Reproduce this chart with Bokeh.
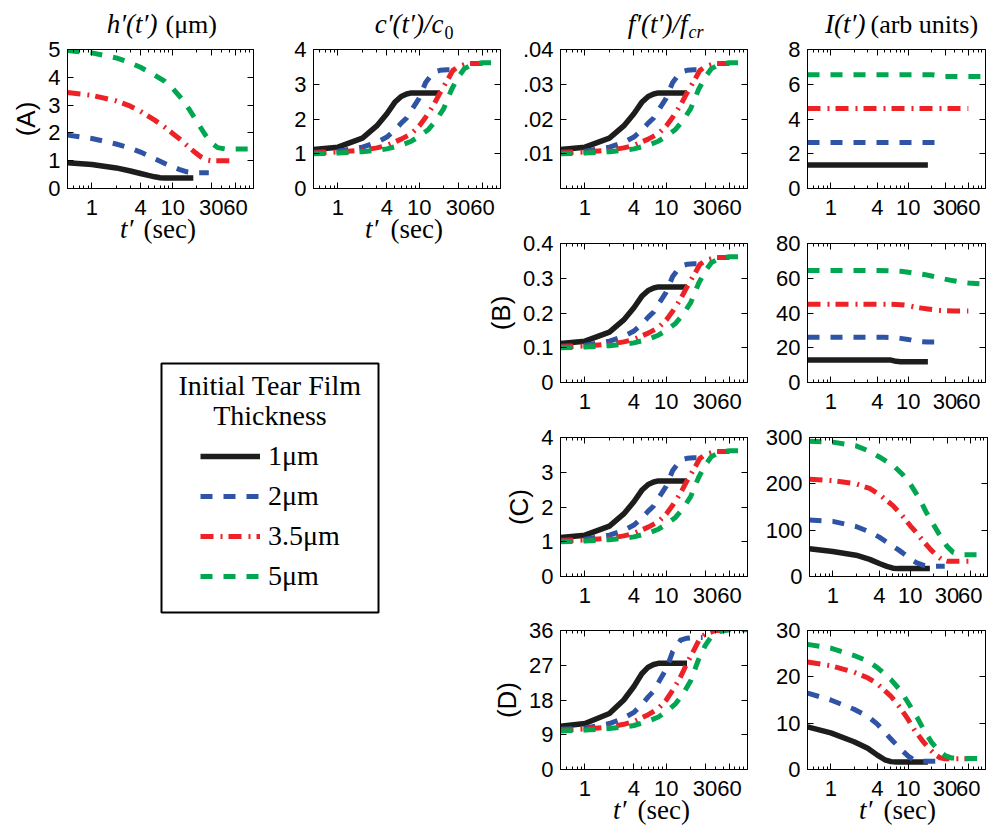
from bokeh.plotting import figure
from bokeh.models import (Range1d, FixedTicker, LinearAxis, LogAxis, Label,
                          Legend, LegendItem, PrintfTickFormatter, CustomLabelingPolicy)
from bokeh.layouts import row, column
from bokeh.embed import file_html
from bokeh.resources import INLINE

SANS = "Liberation Sans"
SERIF = "Liberation Serif"

# ---------------- data ----------------
thickness_labels = ["1μm", "2μm", "3.5μm", "5μm"]
x_ticks = [1, 4, 10, 30, 60]
x_minor = [0.6, 0.7, 0.8, 0.9, 2, 3, 5, 6, 7, 8, 9, 20, 40, 50, 70, 80, 90]

t_1um = [0.5, 1, 2, 3, 4, 5, 6, 7, 8, 10, 18]
t_2um = [0.5, 1, 2, 3, 4, 5, 6, 7, 8, 10, 12, 15, 18, 22, 28]
t_35um = [0.5, 1, 2, 3, 4, 6, 8, 10, 12, 15, 18, 22, 26, 30, 40, 60]
t_5um = [0.5, 1, 2, 3, 4, 6, 8, 10, 13, 16, 20, 25, 30, 36, 45, 60, 100]

# (A) h'(t') in micrometres
h_1um = [0.93, 0.86, 0.74, 0.63, 0.54, 0.47, 0.42, 0.39, 0.38, 0.38, 0.38]
h_2um = [1.92, 1.80, 1.60, 1.45, 1.31, 1.18, 1.07, 0.98, 0.90, 0.78, 0.69, 0.60, 0.57, 0.57, 0.57]
h_35um = [3.45, 3.35, 3.15, 2.96, 2.78, 2.46, 2.20, 1.98, 1.80, 1.55, 1.35, 1.15, 1.03, 1.00, 1.00, 1.00]
h_5um = [4.96, 4.88, 4.70, 4.52, 4.36, 4.08, 3.85, 3.60, 3.22, 2.85, 2.40, 1.95, 1.65, 1.47, 1.42, 1.42, 1.42]

# c'(t')/c0 (row A and row C)
c_1um = [1.12, 1.19, 1.45, 1.80, 2.15, 2.48, 2.65, 2.72, 2.75, 2.75, 2.75]
c_2um = [1.04, 1.07, 1.19, 1.33, 1.48, 1.68, 1.88, 2.03, 2.25, 2.60, 3.05, 3.35, 3.40, 3.42, 3.42]
c_35um = [1.02, 1.05, 1.10, 1.17, 1.24, 1.42, 1.58, 1.80, 2.05, 2.40, 2.75, 3.10, 3.40, 3.50, 3.60, 3.60]
c_5um = [1.00, 1.02, 1.06, 1.10, 1.14, 1.25, 1.36, 1.50, 1.70, 1.95, 2.30, 2.85, 3.20, 3.45, 3.57, 3.62, 3.62]

# f'(t')/fcr row A
fA_1um = [0.0112, 0.0119, 0.0145, 0.0180, 0.0215, 0.0248, 0.0265, 0.0272, 0.0275, 0.0275, 0.0275]
fA_2um = [0.0104, 0.0107, 0.0119, 0.0133, 0.0148, 0.0168, 0.0188, 0.0203, 0.0225, 0.0260, 0.0305, 0.0335, 0.0340, 0.0342, 0.0342]
fA_35um = [0.0102, 0.0105, 0.0110, 0.0117, 0.0124, 0.0142, 0.0158, 0.0180, 0.0205, 0.0240, 0.0275, 0.0310, 0.0340, 0.0350, 0.0360, 0.0360]
fA_5um = [0.0100, 0.0102, 0.0106, 0.0110, 0.0114, 0.0125, 0.0136, 0.0150, 0.0170, 0.0195, 0.0230, 0.0285, 0.0320, 0.0345, 0.0357, 0.0362, 0.0362]

# f'(t')/fcr row B
fB_1um = [0.112, 0.119, 0.145, 0.180, 0.215, 0.248, 0.265, 0.272, 0.275, 0.275, 0.275]
fB_2um = [0.104, 0.107, 0.119, 0.133, 0.148, 0.168, 0.188, 0.203, 0.225, 0.260, 0.305, 0.335, 0.340, 0.342, 0.342]
fB_35um = [0.102, 0.105, 0.110, 0.117, 0.124, 0.142, 0.158, 0.180, 0.205, 0.240, 0.275, 0.310, 0.340, 0.350, 0.360, 0.360]
fB_5um = [0.100, 0.102, 0.106, 0.110, 0.114, 0.125, 0.136, 0.150, 0.170, 0.195, 0.230, 0.285, 0.320, 0.345, 0.357, 0.362, 0.362]

# f'(t')/fcr row D
fD_1um = [11.2, 11.9, 14.5, 18.0, 21.5, 24.8, 26.5, 27.2, 27.5, 27.5, 27.5]
fD_2um = [10.4, 10.7, 11.9, 13.3, 14.8, 16.8, 18.8, 20.3, 22.5, 26.0, 30.5, 33.5, 34.0, 34.2, 34.2]
fD_35um = [10.2, 10.5, 11.0, 11.7, 12.4, 14.2, 15.8, 18.0, 20.5, 24.0, 27.5, 31.0, 34.0, 35.0, 36.0, 36.0]
fD_5um = [10.0, 10.2, 10.6, 11.0, 11.4, 12.5, 13.6, 15.0, 17.0, 19.5, 23.0, 28.5, 32.0, 34.5, 35.7, 36.2, 36.2]

# I(t') (arb units), rows A-D
IA_1um = [1.35, 1.35, 1.35, 1.35, 1.35, 1.35, 1.35, 1.35, 1.35, 1.35, 1.35]
IA_2um = [2.65, 2.65, 2.65, 2.65, 2.65, 2.65, 2.65, 2.65, 2.65, 2.65, 2.65, 2.65, 2.65, 2.65, 2.65]
IA_35um = [4.6, 4.6, 4.6, 4.6, 4.6, 4.6, 4.6, 4.6, 4.6, 4.6, 4.6, 4.6, 4.6, 4.6, 4.6, 4.6]
IA_5um = [6.55, 6.55, 6.55, 6.55, 6.55, 6.55, 6.55, 6.55, 6.55, 6.55, 6.55, 6.5, 6.45, 6.45, 6.45, 6.45, 6.45]

IB_1um = [12.9, 12.9, 12.9, 12.9, 12.9, 12.9, 12.9, 12.2, 12.0, 12.0, 12.0]
IB_2um = [26.0, 26.0, 26.0, 26.0, 26.0, 26.0, 25.9, 25.7, 25.4, 24.8, 24.0, 23.5, 23.3, 23.3, 23.3]
IB_35um = [45.0, 45.0, 45.0, 45.0, 45.0, 45.0, 44.8, 44.3, 43.5, 42.8, 42.3, 41.8, 41.5, 41.3, 41.2, 41.2]
IB_5um = [64.5, 64.5, 64.5, 64.5, 64.5, 64.3, 64.0, 63.5, 62.8, 62.2, 61.3, 60.3, 59.5, 58.8, 58.0, 57.3, 56.5]

IC_1um = [60, 54, 46, 37, 28, 22, 18, 17, 17, 17, 17]
IC_2um = [122, 119, 108, 96, 85, 74, 65, 58, 51, 38, 30, 24, 22, 22, 22]
IC_35um = [210, 207, 200, 190, 177, 153, 130, 110, 95, 75, 60, 45, 36, 33, 33, 33]
IC_5um = [292, 290, 282, 270, 258, 240, 220, 200, 170, 140, 112, 85, 65, 52, 47, 47, 47]

ID_1um = [9.2, 7.9, 6.0, 4.6, 3.1, 2.1, 1.7, 1.6, 1.6, 1.6, 1.6]
ID_2um = [16.5, 15.0, 13.0, 11.5, 9.8, 8.0, 6.6, 5.4, 4.4, 2.9, 2.0, 1.8, 1.8, 1.8, 1.8]
ID_35um = [23.2, 22.4, 21.0, 19.8, 18.5, 15.8, 13.2, 10.8, 8.6, 6.4, 4.8, 3.3, 2.5, 2.3, 2.3, 2.3]
ID_5um = [27.0, 26.2, 24.6, 23.4, 22.0, 19.4, 17.0, 14.4, 11.3, 8.5, 5.9, 4.0, 3.0, 2.5, 2.4, 2.4, 2.4]

TIMES = [t_1um, t_2um, t_35um, t_5um]

# ---------------- styles ----------------
STYLES = [
    dict(line_color="#1d1d1b", line_width=5.5, line_dash="solid"),
    dict(line_color="#2f54a5", line_width=5, line_dash="12 11"),
    dict(line_color="#ec2227", line_width=5, line_dash="13 7 2 6"),
    dict(line_color="#00a650", line_width=5, line_dash="12 11"),
]

NO_LABELS = "for (let i = 0; i < indices.size; i++) { indices.unset(i) }\nreturn indices"


def axis_style(ax, labels=True, standoff=7):
    ax.axis_line_color = "black"
    ax.axis_line_width = 1
    ax.major_tick_line_color = "black"
    ax.minor_tick_line_color = "black"
    ax.major_tick_in = 6
    ax.major_tick_out = 0
    ax.minor_tick_in = 3
    ax.minor_tick_out = 0
    ax.major_label_text_font = SANS
    ax.major_label_text_color = "black"
    if labels:
        ax.major_label_text_font_size = "22px"
        ax.major_label_standoff = standoff
    else:
        # tick marks only (frame box ticks), no tick labels
        ax.major_label_text_font_size = "0px"
        ax.major_label_standoff = 0
        ax.major_label_policy = CustomLabelingPolicy(code=NO_LABELS)


def make_panel(series, ymax, yticks, fw, bl, br, bt, bb, fh=139, ylabel=None, yoverrides=None):
    p = figure(frame_width=fw, frame_height=fh, min_border_left=bl, min_border_right=br,
               min_border_top=bt, min_border_bottom=bb, x_axis_type="log",
               x_range=Range1d(0.5, 100), y_range=Range1d(0, ymax),
               output_backend="svg", toolbar_location=None, tools="")
    p.grid.visible = False
    p.border_fill_color = None
    p.background_fill_color = "white"
    p.outline_line_color = "black"
    for t, v, st in zip(TIMES, series, STYLES):
        p.line(t, v, line_cap="butt", line_join="round", **st)

    xa = p.xaxis[0]
    xa.ticker = FixedTicker(ticks=x_ticks, minor_ticks=x_minor)
    xa.formatter = PrintfTickFormatter(format="%d")
    axis_style(xa, standoff=11)

    ya = p.yaxis[0]
    ya.ticker = FixedTicker(ticks=yticks)
    axis_style(ya, standoff=7)
    ya.minor_tick_line_color = None
    if yoverrides:
        ya.major_label_overrides = yoverrides
    if ylabel:
        ya.axis_label = ylabel
        ya.axis_label_text_font = SANS
        ya.axis_label_text_font_style = "normal"
        ya.axis_label_text_font_size = "26px"
        ya.axis_label_standoff = 4
        ya.axis_label_text_color = "black"

    top = LogAxis(ticker=FixedTicker(ticks=x_ticks, minor_ticks=x_minor))
    axis_style(top, labels=False)
    p.add_layout(top, "above")
    right = LinearAxis(ticker=FixedTicker(ticks=yticks))
    axis_style(right, labels=False)
    right.minor_tick_line_color = None
    p.add_layout(right, "right")
    return p


# ---------------- panels ----------------
A1 = make_panel([h_1um, h_2um, h_35um, h_5um], 5, [0, 1, 2, 3, 4, 5], 186, 67, 20, 49, 40,
                ylabel="(A)")
A2 = make_panel([c_1um, c_2um, c_35um, c_5um], 4, [0, 1, 2, 3, 4], 187, 40, 4, 49, 40)
A3 = make_panel([fA_1um, fA_2um, fA_35um, fA_5um], 0.04, [0.01, 0.02, 0.03, 0.04], 187, 80, 15, 49, 40,
                yoverrides={0.01: ".01", 0.02: ".02", 0.03: ".03", 0.04: ".04"})
A4 = make_panel([IA_1um, IA_2um, IA_35um, IA_5um], 8, [0, 2, 4, 6, 8], 178, 45, 2, 49, 40)

B3 = make_panel([fB_1um, fB_2um, fB_35um, fB_5um], 0.4, [0, 0.1, 0.2, 0.3, 0.4], 187, 80, 15, 15, 40,
                ylabel="(B)")
B4 = make_panel([IB_1um, IB_2um, IB_35um, IB_5um], 80, [0, 20, 40, 60, 80], 178, 45, 2, 15, 40)

C3 = make_panel([c_1um, c_2um, c_35um, c_5um], 4, [0, 1, 2, 3, 4], 187, 80, 15, 15, 40,
                ylabel="(C)")
C4 = make_panel([IC_1um, IC_2um, IC_35um, IC_5um], 300, [0, 100, 200, 300], 178, 45, 2, 15, 40)

D3 = make_panel([fD_1um, fD_2um, fD_35um, fD_5um], 36, [0, 9, 18, 27, 36], 187, 80, 15, 14, 40,
                ylabel="(D)")
D4 = make_panel([ID_1um, ID_2um, ID_35um, ID_5um], 30, [0, 10, 20, 30], 178, 45, 2, 14, 40)

# ---------------- legend box ----------------
L = figure(frame_width=217, frame_height=249, min_border_left=161, min_border_right=126,
           min_border_top=135, min_border_bottom=20, x_range=Range1d(0, 1), y_range=Range1d(10, 11),
           x_axis_location=None, y_axis_location=None,
           output_backend="svg", toolbar_location=None, tools="")
L.grid.visible = False
L.border_fill_color = None
L.background_fill_color = "white"
L.outline_line_color = "black"
L.outline_line_width = 2
items = []
# the legend's sample lines use the panel (A) series; they lie outside this box's ranges
for lab, t, v, st in zip(thickness_labels, TIMES, [h_1um, h_2um, h_35um, h_5um], STYLES):
    r = L.line(t, v, line_cap="butt", **st)
    items.append(LegendItem(label=lab, renderers=[r]))
leg = Legend(items=items, location=(39, 20), orientation="vertical",
             label_text_font=SERIF, label_text_font_size="28px", label_text_color="black",
             glyph_width=60, glyph_height=30, label_height=30, label_standoff=8,
             spacing=8, padding=0, margin=0, border_line_color=None,
             background_fill_alpha=0)
L.add_layout(leg)
for txt, yy in [("Initial Tear Film", 227.5), ("Thickness", 197.5)]:
    L.add_layout(Label(x=108.5, y=yy, x_units="screen", y_units="screen", text=txt,
                       text_font=SERIF, text_font_size="28px", text_align="center",
                       text_baseline="middle", text_color="black"))

left_block = column(row(A1, A2), L)
right_block = column(row(A3, A4), row(B3, B4), row(C3, C4), row(D3, D4),
                     margin=(0, 0, 0, -24))

# ---------------- text layer: panel titles and time-axis labels (page pixels) ----------------
PAGE_W, PAGE_H = 988, 826
T = figure(frame_width=PAGE_W, frame_height=PAGE_H, min_border=0,
           x_range=Range1d(0, PAGE_W), y_range=Range1d(PAGE_H, 0),
           x_axis_location=None, y_axis_location=None,
           output_backend="svg", toolbar_location=None, tools="")
T.grid.visible = False
T.border_fill_color = None
T.background_fill_color = None
T.outline_line_color = None

texts = [
    # (text, x, baseline y, style, size px, align)
    ("h′(t′)", 157, 33, "italic", 27, "right"),
    ("(μm)", 165, 33, "normal", 26, "left"),
    ("c′(t′)/c", 443, 33, "italic", 27, "right"),
    ("0", 444, 38, "normal", 18, "left"),
    ("f′(t′)/f", 687, 33, "italic", 27, "right"),
    ("cr", 688, 38, "italic", 18, "left"),
    ("I(t′)", 865, 33, "italic", 27, "right"),
    ("(arb units)", 870, 33, "normal", 26, "left"),
]
for x_it, x_up, yb in [(133, 143, 238), (378, 390, 238), (626, 637, 819), (872, 883, 819)]:
    texts.append(("t′", x_it, yb, "italic", 27, "right"))
    texts.append(("(sec)", x_up, yb, "normal", 27, "left"))
for (txt, x, yb, style, size, align) in texts:
    T.add_layout(Label(x=x, y=yb - 0.3375 * size, text=txt, text_font=SERIF,
                       text_font_style=style, text_font_size=f"{size}px",
                       text_align=align, text_baseline="middle", text_color="black"))

main = row(left_block, right_block, margin=(-PAGE_H, 0, 0, 0))
layout = column(T, main)

open("out.html", "w").write(file_html(layout, INLINE))
